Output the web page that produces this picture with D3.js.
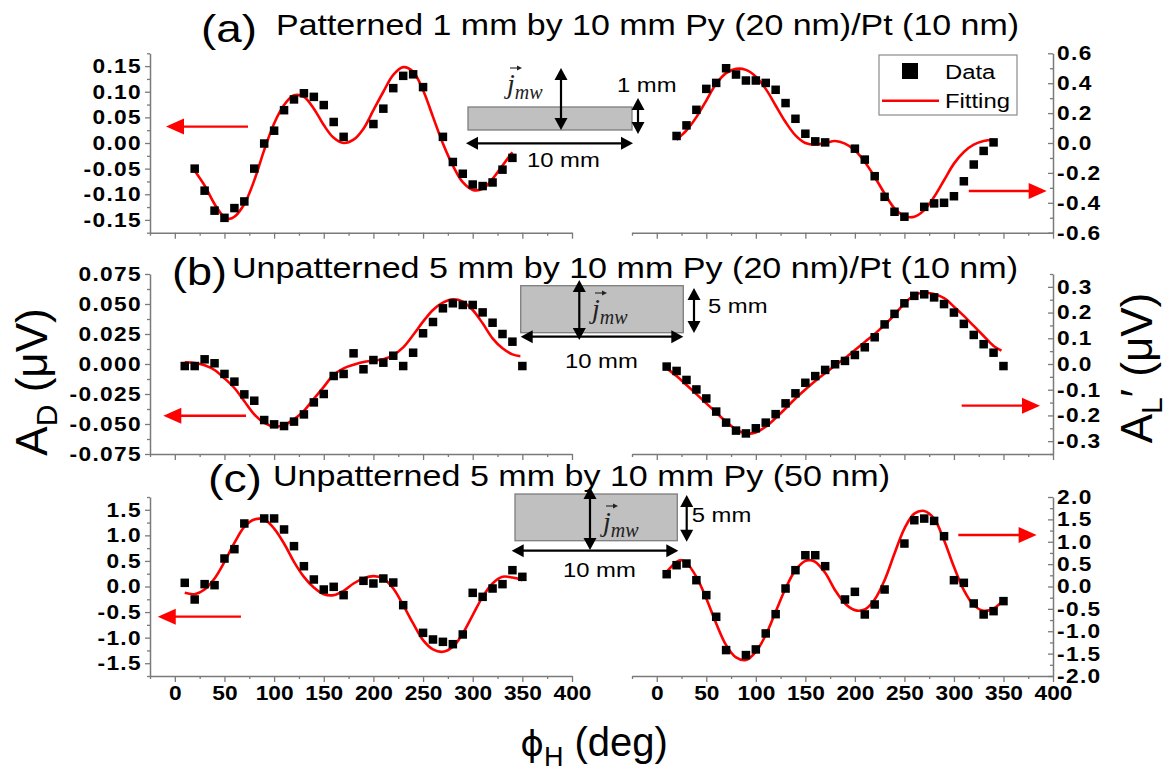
<!DOCTYPE html>
<html>
<head>
<meta charset="utf-8">
<script src="https://cdn.jsdelivr.net/npm/d3@7"></script>
<style>
  body { margin: 0; background: #fff; }
  svg { display: block; font-family: Arial, "Liberation Sans", sans-serif; }
</style>
</head>
<body>
<svg id="chart" width="1168" height="774"></svg>
<script>
// ---------------- data ----------------
// (a) patterned 1 mm x 10 mm Py(20 nm)/Pt(10 nm)
const phiA = [20,30,40,50,60,70,80,90,100,110,120,130,140,150,160,170,200,210,220,230,240,250,270,280,290,300,310,320,330,340];
const adA  = [-0.050,-0.093,-0.132,-0.146,-0.127,-0.114,-0.050,-0.001,0.024,0.064,0.085,0.097,0.090,0.074,0.041,0.012,0.037,0.067,0.107,0.131,0.134,0.109,0.012,-0.037,-0.060,-0.081,-0.084,-0.077,-0.052,-0.029];
const alA  = [0.047,0.118,0.222,0.362,0.402,0.500,0.458,0.418,0.418,0.402,0.356,0.267,0.162,0.062,0.011,0.004,-0.038,-0.111,-0.222,-0.360,-0.460,-0.493,-0.427,-0.404,-0.400,-0.356,-0.256,-0.144,-0.053,0.004];
const fitPhiAdA = [20,30,40,50,55,60,70,80,90,100,110,120,130,140,150,160,170,180,190,200,210,220,230,240,250,260,270,280,290,300,310,320,330,340];
const fitAdA    = [-0.054,-0.083,-0.119,-0.145,-0.148,-0.144,-0.119,-0.073,-0.014,0.038,0.074,0.093,0.090,0.067,0.035,0.010,0.000,0.0065,0.028,0.064,0.100,0.133,0.148,0.139,0.103,0.051,-0.001,-0.044,-0.0765,-0.0915,-0.0895,-0.070,-0.044,-0.018];
const fitPhiAlA = [20,30,40,50,60,70,80,90,100,110,120,130,140,150,160,170,180,190,200,210,220,230,240,250,260,270,280,290,300,310,320,330,340];
const fitAlA    = [0.022,0.084,0.173,0.284,0.396,0.467,0.496,0.489,0.444,0.362,0.251,0.140,0.051,0.000,-0.011,0.000,0.013,-0.004,-0.049,-0.127,-0.227,-0.338,-0.438,-0.489,-0.493,-0.449,-0.360,-0.249,-0.138,-0.060,-0.011,0.013,0.022];

// (b) unpatterned 5 mm x 10 mm Py(20 nm)/Pt(10 nm)
const phiB = [10,20,30,40,50,60,70,80,90,100,110,120,130,140,150,160,170,180,190,200,210,220,230,240,250,260,270,280,290,300,310,320,330,340,350];
const adB  = [-0.0017,-0.0017,0.0039,0.0006,-0.0083,-0.0147,-0.0253,-0.0306,-0.0467,-0.0503,-0.0517,-0.048,-0.042,-0.032,-0.025,-0.010,-0.0083,0.0089,-0.0044,0.0033,0.0011,0.0069,-0.0017,0.0094,0.0256,0.035,0.0464,0.0506,0.0492,0.0492,0.043,0.0344,0.025,0.0186,-0.0017];
const alB  = [-0.010,-0.027,-0.062,-0.099,-0.134,-0.185,-0.228,-0.259,-0.270,-0.250,-0.228,-0.195,-0.153,-0.114,-0.073,-0.047,-0.023,-0.001,0.012,0.035,0.065,0.104,0.154,0.195,0.236,0.265,0.271,0.259,0.233,0.200,0.156,0.113,0.077,0.044,-0.008];
const fitPhiB = [10,20,30,40,50,60,70,80,90,100,110,120,130,140,150,160,170,180,190,200,210,220,230,240,250,260,270,280,290,300,310,320,330,340,348];
const fitAdB  = [0.0014,0.0008,-0.0011,-0.005,-0.012,-0.020,-0.031,-0.042,-0.049,-0.052,-0.051,-0.046,-0.039,-0.029,-0.019,-0.009,-0.0036,-0.0006,0.0017,0.0028,0.0039,0.0075,0.0139,0.0242,0.0353,0.045,0.0511,0.0539,0.052,0.045,0.0339,0.0214,0.0131,0.008,0.0065];
const fitAlB  = [-0.017,-0.047,-0.082,-0.117,-0.153,-0.189,-0.224,-0.254,-0.270,-0.266,-0.244,-0.210,-0.173,-0.134,-0.099,-0.066,-0.036,-0.006,0.023,0.054,0.086,0.117,0.152,0.191,0.236,0.267,0.278,0.272,0.256,0.223,0.187,0.148,0.109,0.070,0.052];

// (c) unpatterned 5 mm x 10 mm Py(50 nm)
const phiC = [10,20,30,40,50,60,70,90,100,110,120,130,140,150,160,170,190,200,210,220,230,250,260,270,280,290,300,310,320,330,340,350];
const adC  = [0.072,-0.254,0.046,0.026,0.547,0.730,1.232,1.33,1.33,1.115,0.789,0.397,0.137,-0.059,-0.0065,-0.169,0.111,0.059,0.156,0.078,-0.365,-0.906,-1.036,-1.082,-1.128,-0.938,-0.124,-0.202,-0.039,0.046,0.319,0.189];
const alC  = [0.275,0.476,0.513,0.141,-0.193,-0.677,-1.421,-1.533,-1.406,-1.049,-0.618,-0.045,0.365,0.699,0.699,0.454,-0.290,-0.119,-0.625,-0.402,-0.067,0.960,1.481,1.518,1.466,1.124,0.141,0.082,-0.379,-0.625,-0.551,-0.327];
const fitPhiAdC = [10,20,30,40,50,60,70,80,90,100,110,120,130,140,150,160,170,180,190,200,210,220,230,240,250,260,270,280,290,300,310,320,330,340,350];
const fitAdC    = [-0.124,-0.150,-0.059,0.156,0.482,0.853,1.166,1.309,1.309,1.133,0.840,0.482,0.189,-0.020,-0.150,-0.169,-0.085,0.059,0.156,0.202,0.156,-0.039,-0.365,-0.723,-1.049,-1.231,-1.277,-1.180,-0.919,-0.560,-0.202,0.059,0.189,0.176,0.124];
const fitPhiAlC = [10,20,25,30,40,50,60,70,80,90,100,110,120,130,140,150,155,160,170,180,190,200,210,220,230,240,250,260,270,280,290,300,310,320,330,340,350];
const fitAlC    = [0.327,0.551,0.588,0.528,0.216,-0.268,-0.826,-1.31,-1.585,-1.644,-1.458,-1.086,-0.565,-0.045,0.365,0.573,0.588,0.551,0.305,-0.082,-0.379,-0.528,-0.513,-0.290,0.141,0.737,1.295,1.629,1.689,1.518,1.034,0.439,-0.082,-0.417,-0.543,-0.491,-0.305];

// axis tick labels
const xTickLabels = [0,50,100,150,200,250,300,350,400];
const panelLetters = ["(a)", "(b)", "(c)"];
const panelTitles = [
  "Patterned 1 mm by 10 mm Py (20 nm)/Pt (10 nm)",
  "Unpatterned 5 mm by 10 mm Py (20 nm)/Pt (10 nm)",
  "Unpatterned 5 mm by 10 mm Py (50 nm)"
];
const legendLabels = ["Data", "Fitting"];

// ---------------- layout ----------------
const SX = 1.135;            // horizontal text stretch
const AXIS_COLOR = "#7a7a7a";
const RED = "#ff0000";
const svg = d3.select("#chart");

const xLeft  = d3.scaleLinear().domain([-25, 400]).range([150, 572]);
const xRight = d3.scaleLinear().domain([-25, 400]).range([632, 1053]);
const xMinor = d3.range(-25, 400, 50);

const rows = [
  { top: 53.3, bottom: 232.7,
    L: { lim: 0.175, step: 0.05, n: 3, dec: 2, phi: phiA, val: adA, fphi: fitPhiAdA, fval: fitAdA, arrow: [73.7, -8.9, 0.032] },
    R: { lim: 0.6, step: 0.2, n: 3, dec: 1, phi: phiA, val: alA, fphi: fitPhiAlA, fval: fitAlA, arrow: [315, 393.6, -0.321] },
    letter: { x: 201, y: 42, len: 56 }, title: { x: 276, y: 35, len: 743 } },
  { top: 274, bottom: 454,
    L: { lim: 0.075, step: 0.025, n: 3, dec: 3, phi: phiB, val: adB, fphi: fitPhiB, fval: fitAdB, arrow: [71.7, -11.6, -0.0431] },
    R: { lim: 0.35, step: 0.1, n: 3, dec: 1, phi: phiB, val: alB, fphi: fitPhiB, fval: fitAlB, arrow: [307.8, 386.9, -0.162] },
    letter: { x: 172, y: 285, len: 55 }, title: { x: 232, y: 278, len: 786 } },
  { top: 497, bottom: 676,
    L: { lim: 1.75, step: 0.5, n: 3, dec: 1, phi: phiC, val: adC, fphi: fitPhiAdC, fval: fitAdC, arrow: [66.6, -17.2, -0.59] },
    R: { lim: 2.0, step: 0.5, n: 4, dec: 1, phi: phiC, val: alC, fphi: fitPhiAlC, fval: fitAlC, arrow: [304.4, 383.5, 1.15] },
    letter: { x: 208, y: 492, len: 54 }, title: { x: 273, y: 486, len: 617 } }
];

const fmt = dec => d => d3.format("." + dec + "f")(d).replace("\u2212", "-");

function styleAxis(g) {
  g.select(".domain").attr("stroke", AXIS_COLOR).attr("stroke-width", 1.5);
  g.selectAll(".tick line").attr("stroke", AXIS_COLOR).attr("stroke-width", 1.3);
  g.selectAll(".tick text")
    .attr("fill", "#000")
    .style("font-family", "Arial, 'Liberation Sans', sans-serif")
    .style("font-weight", "bold");
}

function arrowHead(g, tipX, tipY, dx, dy, len, hw, color) {
  // dx,dy = unit direction of the arrow (pointing toward the tip)
  const bx = tipX - dx * len, by = tipY - dy * len;
  const px = -dy, py = dx;
  g.append("path")
    .attr("d", `M${tipX},${tipY}L${bx + px * hw},${by + py * hw}L${bx - px * hw},${by - py * hw}Z`)
    .attr("fill", color);
}

function redArrow(xs, fromPhi, toPhi, y, value) {
  const x1 = xs(fromPhi), x2 = xs(toPhi), yy = y(value);
  const dir = Math.sign(x2 - x1);
  const g = svg.append("g");
  g.append("line").attr("x1", x1).attr("y1", yy).attr("x2", x2 - dir * 12).attr("y2", yy)
    .attr("stroke", RED).attr("stroke-width", 2.4);
  arrowHead(g, x2, yy, dir, 0, 18, 8, RED);
}

function drawSide(row, side) {
  const cfg = row[side];
  const xs = side === "L" ? xLeft : xRight;
  const y = d3.scaleLinear().domain([-cfg.lim, cfg.lim]).range([row.bottom, row.top]);
  const major = d3.range(-cfg.n, cfg.n + 1).map(i => +(i * cfg.step).toFixed(6));
  const minor = d3.range(-20, 21).filter(k => k % 2 !== 0)
    .map(k => +(k * cfg.step / 2).toFixed(6))
    .filter(v => Math.abs(v) <= cfg.lim + 1e-9);

  // x axis
  const gx = svg.append("g").attr("transform", `translate(0,${row.bottom})`);
  gx.call(d3.axisBottom(xs).tickValues(xTickLabels).tickSize(6).tickSizeOuter(0)
      .tickFormat(row === rows[2] ? d3.format("d") : ""));
  gx.append("g").call(d3.axisBottom(xs).tickValues(xMinor).tickSize(3).tickFormat(""))
    .select(".domain").remove();
  styleAxis(gx);
  gx.selectAll(".tick text")
    .attr("y", 0).attr("dy", 0)
    .attr("transform", `translate(0,24) scale(${SX},1)`)
    .style("font-size", "20px");

  // y axis
  const gy = svg.append("g");
  if (side === "L") {
    gy.attr("transform", `translate(${xs(-25)},0)`);
    gy.call(d3.axisLeft(y).tickValues(major).tickSize(5).tickSizeOuter(0).tickFormat(fmt(cfg.dec)));
    gy.append("g").call(d3.axisLeft(y).tickValues(minor).tickSize(3).tickFormat(""))
      .select(".domain").remove();
    styleAxis(gy);
    gy.selectAll(".tick text").attr("x", -8 / SX)
      .attr("transform", `scale(${SX},1)`);
  } else {
    gy.attr("transform", `translate(${xs(400)},0)`);
    gy.call(d3.axisRight(y).tickValues(major).tickSize(-5).tickSizeOuter(0).tickFormat(fmt(cfg.dec)));
    gy.append("g").call(d3.axisRight(y).tickValues(minor).tickSize(-3).tickFormat(""))
      .select(".domain").remove();
    styleAxis(gy);
    gy.selectAll(".tick text").attr("x", 4 / SX)
      .attr("transform", `scale(${SX},1)`);
  }
  gy.selectAll(".tick text")
    .style("font-size", "20px").style("letter-spacing", "1.2px");

  // fitted curve
  const fit = cfg.fphi.map((p, i) => [p, cfg.fval[i]]);
  svg.append("path")
    .datum(fit)
    .attr("fill", "none")
    .attr("stroke", RED)
    .attr("stroke-width", 2.6)
    .attr("d", d3.line().x(d => xs(d[0])).y(d => y(d[1])).curve(d3.curveCatmullRom.alpha(0.5)));

  // measured points
  const pts = cfg.phi.map((p, i) => [p, cfg.val[i]]);
  const s = 8.5;
  svg.append("g").selectAll("rect").data(pts).join("rect")
    .attr("x", d => xs(d[0]) - s / 2)
    .attr("y", d => y(d[1]) - s / 2)
    .attr("width", s).attr("height", s)
    .attr("fill", "#000");

  // axis indicator arrow
  redArrow(xs, cfg.arrow[0], cfg.arrow[1], y, cfg.arrow[2]);
}

rows.forEach(r => { drawSide(r, "L"); drawSide(r, "R"); });

// panel titles
rows.forEach((r, i) => {
  svg.append("text")
    .attr("x", r.letter.x).attr("y", r.letter.y)
    .attr("textLength", r.letter.len).attr("lengthAdjust", "spacingAndGlyphs")
    .style("font-size", "39px").text(panelLetters[i]);
  svg.append("text")
    .attr("x", r.title.x).attr("y", r.title.y)
    .attr("textLength", r.title.len).attr("lengthAdjust", "spacingAndGlyphs")
    .style("font-size", "30px").text(panelTitles[i]);
});

// axis titles
const yl = svg.append("text")
  .attr("transform", "translate(47,382) rotate(-90)")
  .attr("text-anchor", "middle")
  .style("font-size", "44px");
yl.append("tspan").text("A");
yl.append("tspan").attr("dy", 10).style("font-size", "30px").text("D");
yl.append("tspan").attr("dy", -10).text(" (\u03BCV)");

const yr = svg.append("text")
  .attr("transform", "translate(1152,368) rotate(-90)")
  .attr("text-anchor", "middle")
  .style("font-size", "44px");
yr.append("tspan").text("A");
yr.append("tspan").attr("dy", 10).style("font-size", "30px").text("L");
yr.append("tspan").attr("dy", -10).text("\u2032 (\u03BCV)");

const xl = svg.append("text")
  .attr("x", 594).attr("y", 756)
  .attr("text-anchor", "middle")
  .style("font-size", "40px");
xl.append("tspan").style("font-family", "'DejaVu Sans', sans-serif").style("font-size", "36px").text("\u03D5");
xl.append("tspan").attr("dy", 10).style("font-size", "27px").text("H");
xl.append("tspan").attr("dy", -10).text(" (deg)");

// legend
const lg = svg.append("g");
lg.append("rect").attr("x", 879).attr("y", 55).attr("width", 138).attr("height", 60)
  .attr("fill", "#fff").attr("stroke", "#8a8a8a").attr("stroke-width", 1.2);
lg.append("rect").attr("x", 902).attr("y", 63).attr("width", 16).attr("height", 16).attr("fill", "#000");
lg.append("line").attr("x1", 882).attr("x2", 939).attr("y1", 100.7).attr("y2", 100.7)
  .attr("stroke", RED).attr("stroke-width", 2.6);
legendLabels.forEach((t, i) => {
  svg.append("text").attr("transform", `translate(945,${i ? 108 : 79}) scale(${SX},1)`)
    .style("font-size", "21px").text(t);
});

// sample sketches: strip, current direction, dimensions
function dblArrow(x1, y1, x2, y2) {
  const g = svg.append("g");
  const L = Math.hypot(x2 - x1, y2 - y1), dx = (x2 - x1) / L, dy = (y2 - y1) / L;
  const h = 12, hw = 6.5;
  g.append("line")
    .attr("x1", x1 + dx * (h - 2)).attr("y1", y1 + dy * (h - 2))
    .attr("x2", x2 - dx * (h - 2)).attr("y2", y2 - dy * (h - 2))
    .attr("stroke", "#000").attr("stroke-width", 2.2);
  arrowHead(g, x2, y2, dx, dy, h, hw, "#000");
  arrowHead(g, x1, y1, -dx, -dy, h, hw, "#000");
}

function sketch(o) {
  svg.append("rect").attr("x", o.rx).attr("y", o.ry).attr("width", o.rw).attr("height", o.rh)
    .attr("fill", "#c0c0c0").attr("stroke", "#7d7d7d").attr("stroke-width", 1.3);
  dblArrow(o.vx, o.vy1, o.vx, o.vy2);
  dblArrow(o.sx, o.sy1, o.sx, o.sy2);
  dblArrow(o.hx1, o.hy, o.hx2, o.hy);
  // current label
  const jt = svg.append("text").attr("x", o.jx).attr("y", o.jy)
    .style("font-family", "'Liberation Serif', 'Times New Roman', serif")
    .style("font-style", "italic").style("font-size", "28px").attr("fill", "#222");
  jt.append("tspan").text("j");
  jt.append("tspan").attr("dy", 6).style("font-size", "20px").text("mw");
  const ax = o.jx + 3, ay = o.jy - 25;
  svg.append("line").attr("x1", ax).attr("x2", ax + 9).attr("y1", ay).attr("y2", ay)
    .attr("stroke", "#222").attr("stroke-width", 1.1);
  arrowHead(svg, ax + 12, ay, 1, 0, 5, 2.5, "#222");
  // dimension labels
  svg.append("text").attr("transform", `translate(${o.wx},${o.wy}) scale(${SX},1)`)
    .style("font-size", "21px").text(o.wlabel);
  svg.append("text").attr("transform", `translate(${o.lx},${o.ly}) scale(${SX},1)`)
    .style("font-size", "21px").text("10 mm");
}

sketch({ rx: 468, ry: 107, rw: 164, rh: 23, vx: 561, vy1: 68, vy2: 130,
         sx: 638, sy1: 98, sy2: 134, hx1: 466, hx2: 633, hy: 143.3,
         jx: 507, jy: 93, wx: 617, wy: 92, wlabel: "1 mm", lx: 527, ly: 167 });
sketch({ rx: 520.7, ry: 285.7, rw: 162.6, rh: 47, vx: 579.3, vy1: 280, vy2: 340,
         sx: 694, sy1: 288, sy2: 333, hx1: 520.7, hx2: 683.3, hy: 336.7,
         jx: 592, jy: 318, wx: 708, wy: 313, wlabel: "5 mm", lx: 565, ly: 368 });
sketch({ rx: 515, ry: 494, rw: 162.3, rh: 46.7, vx: 590, vy1: 487, vy2: 550,
         sx: 686.7, sy1: 495, sy2: 541.7, hx1: 511.7, hx2: 678.3, hy: 550.7,
         jx: 603, jy: 531, wx: 691.7, wy: 521.7, wlabel: "5 mm", lx: 563, ly: 576.7 });
</script>
</body>
</html>
